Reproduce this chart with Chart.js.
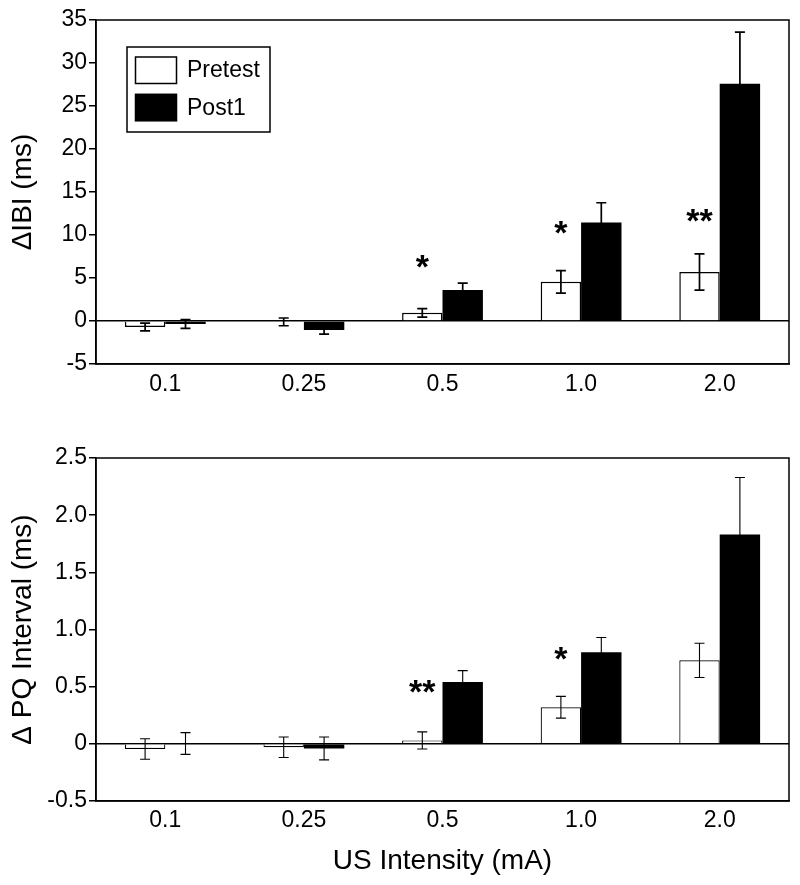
<!DOCTYPE html>
<html>
<head>
<meta charset="utf-8">
<script src="https://cdn.jsdelivr.net/npm/chart.js@4.4.1/dist/chart.umd.min.js"></script>
<style>
html, body { margin: 0; padding: 0; background: #fff; }
canvas { display: block; }
</style>
</head>
<body>
<canvas id="topChart" width="800" height="430"></canvas>
<canvas id="bottomChart" width="800" height="455"></canvas>
<script>
// ---------- data ----------
const categories = ['0.1', '0.25', '0.5', '1.0', '2.0'];
const seriesNames = ['Pretest', 'Post1'];

// Top panel: ΔIBI (ms)
const ibiPretest    = [-0.7, -0.1, 0.95, 4.55, 5.7];
const ibiPretestErr = [0.45, 0.45, 0.5, 1.3, 2.1];
const ibiPost1      = [-0.35, -1.05, 3.6, 11.45, 27.6];
const ibiPost1Err   = [0.5, 0.47, 0.8, 2.3, 6.0];
const ibiSigLabels  = ['', '', '*', '*', '**'];
const ibiSigAt      = [null, null, 6.95, 10.9, 12.3];
const ibiTicks      = [-5, 0, 5, 10, 15, 20, 25, 30, 35];
const ibiTickLabels = ['-5', '0', '5', '10', '15', '20', '25', '30', '35'];

// Bottom panel: ΔPQ Interval (ms)
const pqPretest     = [-0.045, -0.03, 0.03, 0.32, 0.73];
const pqPretestErr  = [0.09, 0.09, 0.075, 0.095, 0.15];
const pqPost1       = [0.003, -0.04, 0.54, 0.80, 1.83];
const pqPost1Err    = [0.095, 0.1, 0.1, 0.13, 0.5];
const pqSigLabels   = ['', '', '**', '*', ''];
const pqSigAt       = [null, null, 0.5, 0.787, null];
const pqTicks       = [-0.5, 0, 0.5, 1.0, 1.5, 2.0, 2.5];
const pqTickLabels  = ['-0.5', '0', '0.5', '1.0', '1.5', '2.0', '2.5'];

// ---------- common ----------
const FONT = "'Liberation Sans', Arial, Helvetica, sans-serif";
Chart.defaults.font.family = FONT;
Chart.defaults.color = '#000';

const errorBarPlugin = {
  id: 'errorBars',
  afterDatasetsDraw(chart, args, opts) {
    const ctx = chart.ctx;
    const yScale = chart.scales.y;
    ctx.save();
    ctx.strokeStyle = opts.color || '#000';
    ctx.lineWidth = opts.lineWidth || 1.5;
    const cap = (opts.capWidth || 10) / 2;
    chart.data.datasets.forEach((ds, i) => {
      const meta = chart.getDatasetMeta(i);
      meta.data.forEach((bar, j) => {
        const v = ds.data[j];
        const e = ds.errors[j];
        const yHi = yScale.getPixelForValue(v + e);
        const yLo = yScale.getPixelForValue(v - e);
        ctx.beginPath();
        ctx.moveTo(bar.x, yLo); ctx.lineTo(bar.x, yHi);
        ctx.moveTo(bar.x - cap, yHi); ctx.lineTo(bar.x + cap, yHi);
        ctx.moveTo(bar.x - cap, yLo); ctx.lineTo(bar.x + cap, yLo);
        ctx.stroke();
      });
    });
    ctx.restore();
  }
};

const framePlugin = {
  id: 'frame',
  afterDatasetsDraw(chart, args, opts) {
    const {ctx, chartArea: a} = chart;
    ctx.save();
    ctx.strokeStyle = '#000';
    ctx.lineWidth = opts.lineWidth || 1.5;
    ctx.strokeRect(a.left, a.top, a.right - a.left, a.bottom - a.top);
    ctx.restore();
  }
};

const sigPlugin = {
  id: 'sigMarks',
  afterDatasetsDraw(chart, args, opts) {
    if (!opts.labels) return;
    const ctx = chart.ctx;
    const yScale = chart.scales.y;
    const meta = chart.getDatasetMeta(0);
    ctx.save();
    ctx.fillStyle = '#000';
    ctx.font = 'bold ' + (opts.size || 32) + 'px ' + FONT;
    ctx.textAlign = 'center';
    ctx.textBaseline = 'alphabetic';
    opts.labels.forEach((lab, j) => {
      if (!lab || opts.at[j] == null) return;
      const x = meta.data[j].x;
      const yc = yScale.getPixelForValue(opts.at[j]);
      const m = ctx.measureText(lab);
      const y = yc + (m.actualBoundingBoxAscent - m.actualBoundingBoxDescent) / 2;
      ctx.fillText(lab, x, y);
    });
    ctx.restore();
  }
};

const boxLegendPlugin = {
  id: 'boxLegend',
  afterDraw(chart, args, opts) {
    if (!opts.display) return;
    const {ctx, chartArea: a} = chart;
    const bx = a.left + 31, by = a.top + 27, bw = 143, bh = 85;
    ctx.save();
    ctx.fillStyle = '#fff';
    ctx.fillRect(bx, by, bw, bh);
    ctx.strokeStyle = '#000';
    ctx.lineWidth = 1.5;
    ctx.strokeRect(bx, by, bw, bh);
    ctx.font = '23px ' + FONT;
    ctx.textBaseline = 'middle';
    ctx.textAlign = 'left';
    chart.data.datasets.forEach((ds, i) => {
      const sy = by + 10 + i * 37.3;
      ctx.fillStyle = ds.backgroundColor;
      ctx.fillRect(bx + 8.5, sy, 41, 26.5);
      ctx.strokeStyle = '#000';
      ctx.lineWidth = 1.5;
      ctx.strokeRect(bx + 8.5, sy, 41, 26.5);
      ctx.fillStyle = '#000';
      ctx.fillText(ds.label, bx + 60, sy + 14);
    });
    ctx.restore();
  }
};

function makeChart(canvasId, cfg) {
  return new Chart(document.getElementById(canvasId), {
    type: 'bar',
    data: {
      labels: categories,
      datasets: [
        {
          label: seriesNames[0], data: cfg.pre, errors: cfg.preErr,
          backgroundColor: '#ffffff', borderColor: '#000', borderWidth: cfg.barBorder,
          borderSkipped: 'start', categoryPercentage: 0.583, barPercentage: 1.0
        },
        {
          label: seriesNames[1], data: cfg.post, errors: cfg.postErr,
          backgroundColor: '#000000', borderColor: '#000', borderWidth: 0,
          categoryPercentage: 0.583, barPercentage: 1.0
        }
      ]
    },
    options: {
      responsive: false,
      animation: false,
      events: [],
      layout: { padding: { left: 0, right: 11, top: cfg.padTop, bottom: 0 } },
      plugins: {
        legend: { display: false },
        tooltip: { enabled: false },
        errorBars: { lineWidth: cfg.errWidth, color: '#000', capWidth: 10 },
        frame: { lineWidth: 1.5 },
        sigMarks: { labels: cfg.sigLabels, at: cfg.sigAt, size: 34 },
        boxLegend: { display: cfg.legend }
      },
      scales: {
        x: {
          afterFit: s => { s.height = cfg.xHeight; },
          grid: { display: false, drawTicks: false },
          border: { display: true, color: '#000', width: 1.5 },
          ticks: { font: { size: 23 }, color: '#000', padding: cfg.xTickPad, maxRotation: 0 },
          title: {
            display: !!cfg.xTitle, text: cfg.xTitle || '', color: '#000',
            font: { size: 28 }, padding: { top: 0, bottom: 7 }
          }
        },
        y: {
          min: cfg.ticks[0], max: cfg.ticks[cfg.ticks.length - 1],
          afterFit: s => { s.width = 96; },
          afterBuildTicks: s => { s.ticks = cfg.ticks.map(v => ({ value: v })); },
          ticks: {
            font: { size: 23 }, color: '#000', padding: 2,
            callback: v => cfg.tickLabels[cfg.ticks.indexOf(v)]
          },
          grid: {
            drawOnChartArea: true,
            color: c => (c.tick && c.tick.value === 0) ? '#000' : 'rgba(0,0,0,0)',
            lineWidth: 1.5, tickColor: '#000', tickLength: 7, tickWidth: 1.5
          },
          border: { display: true, color: '#000', width: 1.5 },
          title: {
            display: true, text: cfg.yTitle, color: '#000',
            font: { size: 28 }, padding: { top: 6, bottom: 0 }
          }
        }
      }
    },
    plugins: [errorBarPlugin, framePlugin, sigPlugin, boxLegendPlugin]
  });
}

makeChart('topChart', {
  pre: ibiPretest, preErr: ibiPretestErr, post: ibiPost1, postErr: ibiPost1Err,
  sigLabels: ibiSigLabels, sigAt: ibiSigAt, ticks: ibiTicks, tickLabels: ibiTickLabels,
  yTitle: 'ΔIBI (ms)', xTitle: null, padTop: 20, xHeight: 66, xTickPad: 7,
  legend: true, barBorder: 1.5, errWidth: 1.7
});

makeChart('bottomChart', {
  pre: pqPretest, preErr: pqPretestErr, post: pqPost1, postErr: pqPost1Err,
  sigLabels: pqSigLabels, sigAt: pqSigAt, ticks: pqTicks, tickLabels: pqTickLabels,
  yTitle: 'Δ PQ Interval (ms)', xTitle: 'US Intensity (mA)', padTop: 28, xHeight: 84, xTickPad: 6,
  legend: false, barBorder: 1.2, errWidth: 1.1
});
</script>
</body>
</html>
